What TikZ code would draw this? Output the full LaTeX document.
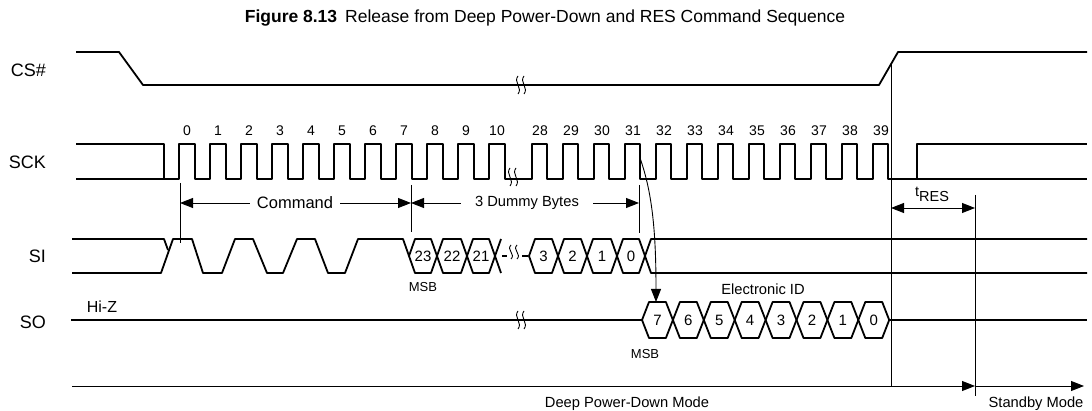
\documentclass[tikz,border=0pt]{standalone}
\usepackage{fontspec}
\setmainfont{Liberation Sans}
\usetikzlibrary{arrows.meta}

\begin{document}
\begin{tikzpicture}[x = 1pt, y = -1pt,
		sig/.style = {line width = 1.8pt, line join = round},
		guide/.style = {line width = 0.9pt},
		arr/.style = {-{Triangle[length = 13pt, width = 10pt]}},
		signame/.style = {anchor = east, inner sep = 0pt, font = \fontsize{18}{20}\selectfont},
		num/.style = {font = \fontsize{14}{16}\selectfont},
		bit/.style = {font = \fontsize{15}{17}\selectfont},
		note/.style = {font = \fontsize{14.7}{17}\selectfont}]
		\useasboundingbox (0,0) rectangle (1092,411);
		\node (title) at (545,18) [font = \fontsize{17.5}{20}\selectfont] {\textbf{Figure 8.13}\hspace{8pt}Release from Deep Power-Down and RES Command Sequence};
		
		\node (cs) at (46,70) [signame] {CS\#};
		\node (sck) at (46,162) [signame] {SCK};
		\node (si) at (46,256) [signame] {SI};
		\node (so) at (46,322) [signame] {SO};
		
		\draw [sig] (76,52) -- (119,52) -- (143,85) -- (879,85) -- (898,52) -- (1087,52);
		
		\draw [sig] (76,144) -- (164,144) -- (164,179);
		\draw [sig] (76,179) \foreach \k in {0,...,10} { -- ({179+31*\k},179) -- ++(0,-35) -- ++(16,0) -- ++(0,35) }
			\foreach \k in {28,...,39} { -- ({532+31*(\k-28)},179) -- ++(0,-35) -- ++(15,0) -- ++(0,35) } -- (1087,179);
		\draw [sig] (917,179) -- (917,144) -- (1087,144);
		\foreach \k in {0,...,10} \node (n\k) at ({187+31*\k},131) [num] {\k};
		\foreach \k in {28,...,39} \node (n\k) at ({540+31*(\k-28)},131) [num] {\k};
		
		\draw [sig] (72,239) -- (164,239) -- (168,250);
		\draw [sig] (72,273) -- (161,273) -- (173,239) -- (192,239) -- (203,273) -- (222,273) -- (235,239) -- (253,239) -- (267,273) -- (283,273)
			-- (297,239) -- (315,239) -- (328,273) -- (345,273) -- (358,239) -- (403,239) -- (409,256);
		\foreach \l/\r/\b in {409/437/23, 437/467/22, 467/495/21, 529/558/3, 558/587/2, 587/617/1, 617/645/0} {
			\draw [sig] (\l,256) -- ({\l+6},239) -- ({\r-6},239) -- (\r,256) -- ({\r-6},273) -- ({\l+6},273) -- cycle;
			\node (si\b) at ({(\l+\r)/2},256) [bit] {\b};
		}
		\draw [sig] (501,239) -- (495,256) -- (501,273);
		\draw [sig] (502,256) -- (507,256);
		\draw [sig] (522,256) -- (528,256);
		\draw [sig] (1087,239) -- (651,239) -- (645,256) -- (651,273) -- (1087,273);
		
		\draw [sig] (71,320) -- (642,320);
		\foreach \i/\b in {0/7, 1/6, 2/5, 3/4, 4/3, 5/2, 6/1, 7/0} {
			\pgfmathsetmacro\l{642+30.9*\i}
			\draw [sig] (\l,320) -- ({\l+7},302) -- ({\l+23.9},302) -- ({\l+30.9},320) -- ({\l+23.9},338) -- ({\l+7},338) -- cycle;
			\node (so\b) at ({\l+15.45},320) [bit] {\b};
		}
		\draw [sig] (889,320) -- (1087,320);
		
		\foreach \bx/\by/\bh in {521/85/9, 513/177/9, 514/252/7, 521/320/9} {
			\draw [guide] ({\bx-3},{\by-\bh}) .. controls ({\bx-8},{\by-\bh/3}) and ({\bx+2},{\by+\bh/3}) .. ({\bx-3},{\by+\bh});
			\draw [guide] ({\bx+3},{\by-\bh}) .. controls ({\bx-2},{\by-\bh/3}) and ({\bx+8},{\by+\bh/3}) .. ({\bx+3},{\by+\bh});
		}
		
		\node (hiz) at (102,307) [font = \fontsize{16}{18}\selectfont] {Hi-Z};
		\node (msb1) at (423,287) [font = \fontsize{13}{15}\selectfont] {MSB};
		\node (msb2) at (645,354) [font = \fontsize{13}{15}\selectfont] {MSB};
		\node (eid) at (763,289) [note] {Electronic ID};
		
		\coordinate (c0) at (180,203);
		\coordinate (c7) at (411,203);
		\coordinate (c31) at (639,203);
		\draw [guide] (180,183) -- (180,243);
		\draw [guide] (411,185) -- (411,232);
		\draw [guide] (639,185) -- (639,233);
		\node (cmd) at (295,203) [font = \fontsize{16.5}{18}\selectfont, inner sep = 7pt] {Command};
		\node (dummy) at (527,203) [note, inner sep = 14pt] {3 Dummy Bytes};
		\draw [guide, arr] (cmd.west) -- (c0);
		\draw [guide, arr] (cmd.east) -- (c7);
		\draw [guide, arr] (dummy.west) -- (c7);
		\draw [guide, arr] (dummy.east) -- (c31);
		
		\coordinate (f31) at (640,158);
		\coordinate (d7) at (656,302);
		\draw [guide, arr] (f31) .. controls (652,192) and (656,230) .. (d7);
		
		\coordinate (r0) at (891,208);
		\coordinate (r1) at (975,208);
		\draw [guide] (891,64) -- (891,386);
		\draw [guide] (975,195) -- (975,396);
		\draw [guide, {Triangle[length = 13pt, width = 10pt]}-{Triangle[length = 13pt, width = 10pt]}] (r0) -- (r1);
		\node (tres) at (915,197) [anchor = base west, inner sep = 0pt, font = \fontsize{14.5}{16}\selectfont] {t\raisebox{-5pt}{RES}};
		
		\coordinate (b0) at (72,386);
		\coordinate (b1) at (975,386);
		\coordinate (b2) at (1084,386);
		\draw [guide, arr] (b0) -- (b1);
		\draw [guide, arr] (b1) -- (b2);
		\node (dpd) at (627,404) [note] {Deep Power-Down Mode};
		\node (stby) at (1036,404) [note] {Standby Mode};
\end{tikzpicture}
\end{document}
